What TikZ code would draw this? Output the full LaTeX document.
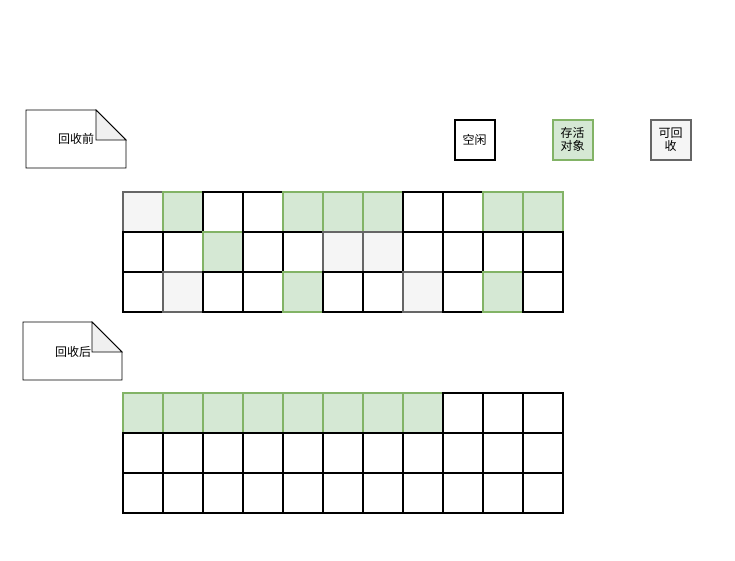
\documentclass[tikz,border=0pt]{standalone}
\usepackage{fontspec}
\newfontfamily\cjk{Noto Sans CJK SC}
\definecolor{gfill}{HTML}{D5E8D4}
\definecolor{gline}{HTML}{82B366}
\definecolor{rfill}{HTML}{F5F5F5}
\definecolor{rline}{HTML}{666666}
\definecolor{foldfill}{HTML}{F0F0F0}
\tikzset{
  cellbase/.style={draw, line width=2pt, minimum size=40pt, inner sep=0pt, anchor=north west},
  cellw/.style={cellbase, draw=black, fill=white},
  cellg/.style={cellbase, draw=gline, fill=gfill},
  cellr/.style={cellbase, draw=rline, fill=rfill},
  lbl/.style={font=\cjk\fontsize{12}{13}\selectfont, align=center, inner sep=0pt},
  legendbox/.style={line width=2pt, minimum size=40pt, inner sep=0pt, anchor=north west, font=\cjk\fontsize{12}{13}\selectfont, align=center},
  notebody/.style={draw=black, line width=0.8pt, fill=white},
  notefold/.style={draw=black, line width=0.8pt, fill=foldfill}
}
\begin{document}
\begin{tikzpicture}[x=1pt,y=-1pt]
\useasboundingbox (0,0) rectangle (735,560);
% note 1
\draw[notebody] (26,110) -- (96,110) -- (126,140) -- (126,168) -- (26,168) -- cycle;
\draw[notefold] (96,110) -- (96,140) -- (126,140) -- cycle;
\node[lbl] (n1) at (76,139) {回收前};
% note 2
\draw[notebody] (23,322) -- (92,322) -- (122,352) -- (122,380) -- (23,380) -- cycle;
\draw[notefold] (92,322) -- (92,352) -- (122,352) -- cycle;
\node[lbl] (n2) at (73,352) {回收后};
% legend
\node[legendbox, draw=black, fill=white] (lw) at (453.5,118.5) {空闲};
\node[legendbox, draw=gline, fill=gfill] (lg) at (551.5,118.5) {存活\\对象};
\node[legendbox, draw=rline, fill=rfill] (lr) at (649.5,118.5) {可回\\收};
% top grid
\foreach \rr/\rowlist in {0/{r,g,w,w,g,g,g,w,w,g,g},1/{w,w,g,w,w,r,r,w,w,w,w},2/{w,r,w,w,g,w,w,r,w,g,w}}{
  \foreach \t [count=\c from 0] in \rowlist {
    \node[cell\t] (t-\rr-\c) at (121.5+40*\c, 190.5+40*\rr) {};
  }
}
% bottom grid
\foreach \rr/\rowlist in {0/{g,g,g,g,g,g,g,g,w,w,w},1/{w,w,w,w,w,w,w,w,w,w,w},2/{w,w,w,w,w,w,w,w,w,w,w}}{
  \foreach \t [count=\c from 0] in \rowlist {
    \node[cell\t] (b-\rr-\c) at (121.5+40*\c, 391.5+40*\rr) {};
  }
}
\end{tikzpicture}
\end{document}
